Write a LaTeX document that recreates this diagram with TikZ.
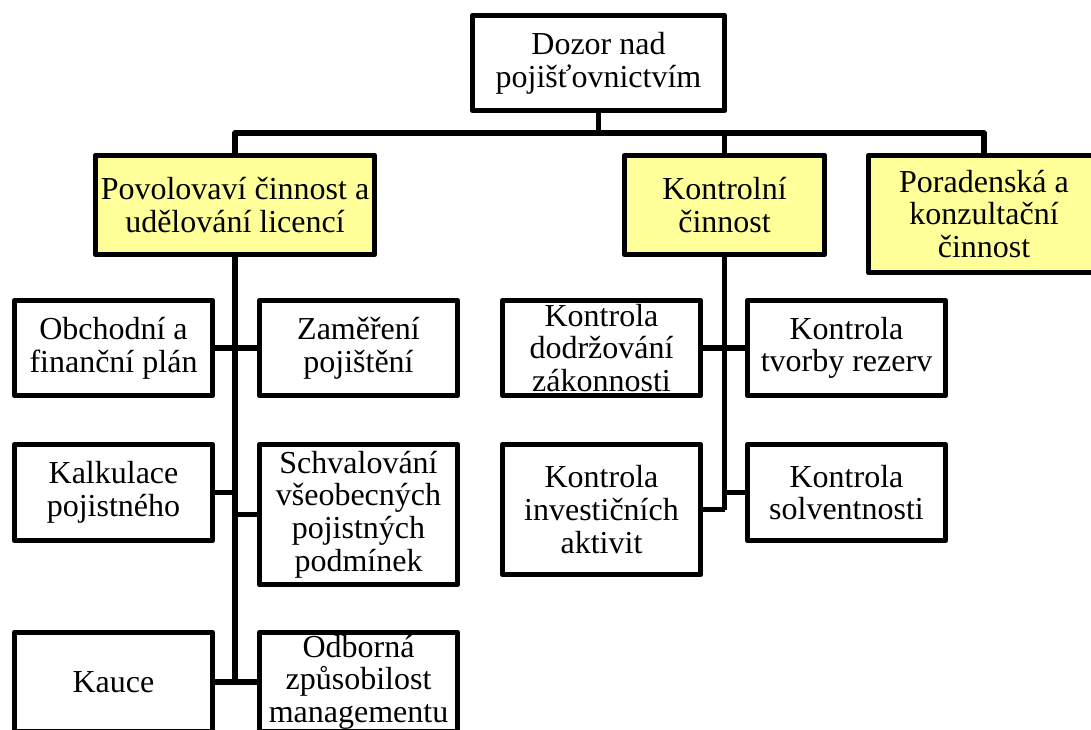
\documentclass[tikz,border=0pt]{standalone}
\usepackage{fontspec}
\setmainfont{Liberation Serif}
\definecolor{boxyellow}{RGB}{255,255,153}
\newcommand{\boxfont}{\fontsize{24pt}{24.5pt}\selectfont}
\begin{document}
\begin{tikzpicture}[x=0.75pt,y=-0.75pt,
  box/.style={draw, line width=4pt, line join=round, fill=white, align=center,
    inner sep=0pt, font=\boxfont, minimum width=148.5pt, minimum height=71.25pt},
  ybox/.style={box, fill=boxyellow},
  conn/.style={line width=4pt, line join=round}]
\useasboundingbox (0,0) rectangle (1091,729);
\clip (0,0) rectangle (1091,729);

\node[box, minimum width=189pt, minimum height=71.25pt] (top) at (598.5,63) {Dozor nad\\pojišťovnictvím};
\node[ybox, minimum width=209.25pt, minimum height=74.25pt] (pov) at (235,205) {Povolovaví činnost a\\udělování licencí};
\node[ybox, minimum width=150pt, minimum height=74.25pt] (kon) at (724.5,205) {Kontrolní\\činnost};
\node[ybox, minimum width=173.25pt, minimum height=87.75pt] (por) at (984,214) {Poradenská a\\konzultační\\činnost};

\node[box] (ob) at (113.5,348) {Obchodní a\\finanční plán};
\node[box] (za) at (358.5,348) {Zaměření\\pojištění};
\node[box, minimum height=72pt] (ka) at (113.5,492.5) {Kalkulace\\pojistného};
\node[box, minimum height=105pt] (sch) at (358.5,514.5) {Schvalování\\všeobecných\\pojistných\\podmínek};
\node[box, minimum height=74.25pt] (kau) at (113.5,682) {Kauce};
\node[box, minimum height=74.25pt] (odb) at (358.5,682) {Odborná\\způsobilost\\managementu};

\node[box] (kd) at (601.5,348) {Kontrola\\dodržování\\zákonnosti};
\node[box] (kt) at (846.5,348) {Kontrola\\tvorby rezerv};
\node[box, minimum height=97.5pt] (ki) at (601.5,509.5) {Kontrola\\investičních\\aktivit};
\node[box, minimum height=72pt] (ks) at (846.5,492.5) {Kontrola\\solventnosti};

\coordinate (bar) at (0,133);
\draw[conn] (top.south) -- (top.south |- bar);
\draw[conn] (pov.north) -- (pov.north |- bar) -- (por.north |- bar) -- (por.north);
\draw[conn] (kon.north) -- (kon.north |- bar);

\draw[conn] (pov.south) -- (pov.south |- kau.east);
\draw[conn] (ob.east) -- (ob.east -| pov.south);
\draw[conn] (za.west) -- (za.west -| pov.south);
\draw[conn] (ka.east) -- (ka.east -| pov.south);
\draw[conn] (sch.west) -- (sch.west -| pov.south);
\draw[conn] (kau.east) -- (odb.west);

\draw[conn] (kon.south) -- (kon.south |- ki.east);
\draw[conn] (kd.east) -- (kt.west);
\draw[conn] (ki.east) -- (ki.east -| kon.south);
\draw[conn] (ks.west) -- (ks.west -| kon.south);
\end{tikzpicture}
\end{document}
